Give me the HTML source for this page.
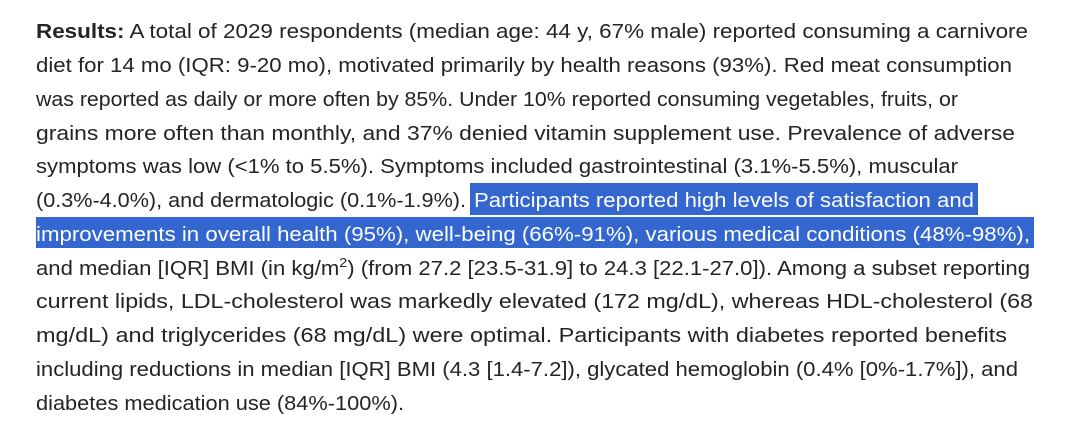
<!DOCTYPE html>
<html><head><meta charset="utf-8"><style>
html,body{margin:0;padding:0;background:#fff;width:1080px;height:435px;overflow:hidden}
svg text{font-family:"Liberation Sans",sans-serif;font-size:20px;fill:#242424}
</style></head><body>
<svg width="1080" height="435">
<rect x="470" y="183" width="508" height="32" fill="#3466d0"/>
<rect x="36" y="217" width="998" height="31" fill="#3466d0"/>
<text x="36" y="38" textLength="992" lengthAdjust="spacingAndGlyphs"><tspan font-weight="bold">Results:</tspan> A total of 2029 respondents (median age: 44 y, 67% male) reported consuming a carnivore</text>
<text x="36" y="72" textLength="976" lengthAdjust="spacingAndGlyphs">diet for 14 mo (IQR: 9-20 mo), motivated primarily by health reasons (93%). Red meat consumption</text>
<text x="36" y="106" textLength="922" lengthAdjust="spacingAndGlyphs">was reported as daily or more often by 85%. Under 10% reported consuming vegetables, fruits, or</text>
<text x="36" y="140" textLength="979" lengthAdjust="spacingAndGlyphs">grains more often than monthly, and 37% denied vitamin supplement use. Prevalence of adverse</text>
<text x="36" y="173" textLength="922" lengthAdjust="spacingAndGlyphs">symptoms was low (&lt;1% to 5.5%). Symptoms included gastrointestinal (3.1%-5.5%), muscular</text>
<text x="36" y="207" textLength="430" lengthAdjust="spacingAndGlyphs">(0.3%-4.0%), and dermatologic (0.1%-1.9%).</text>
<text x="474" y="207" textLength="500" lengthAdjust="spacingAndGlyphs" style="fill:#fff">Participants reported high levels of satisfaction and</text>
<text x="36" y="241" textLength="994" lengthAdjust="spacingAndGlyphs" style="fill:#fff">improvements in overall health (95%), well-being (66%-91%), various medical conditions (48%-98%),</text>
<text x="36" y="275" textLength="994" lengthAdjust="spacingAndGlyphs">and median [IQR] BMI (in kg/m<tspan font-size="13" dy="-8">2</tspan><tspan dy="8">) (from 27.2 [23.5-31.9] to 24.3 [22.1-27.0]). Among a subset reporting</tspan></text>
<text x="36" y="308" textLength="997" lengthAdjust="spacingAndGlyphs">current lipids, LDL-cholesterol was markedly elevated (172 mg/dL), whereas HDL-cholesterol (68</text>
<text x="36" y="342" textLength="971" lengthAdjust="spacingAndGlyphs">mg/dL) and triglycerides (68 mg/dL) were optimal. Participants with diabetes reported benefits</text>
<text x="36" y="376" textLength="982" lengthAdjust="spacingAndGlyphs">including reductions in median [IQR] BMI (4.3 [1.4-7.2]), glycated hemoglobin (0.4% [0%-1.7%]), and</text>
<text x="36" y="410" textLength="368" lengthAdjust="spacingAndGlyphs">diabetes medication use (84%-100%).</text>
</svg>
</body></html>
